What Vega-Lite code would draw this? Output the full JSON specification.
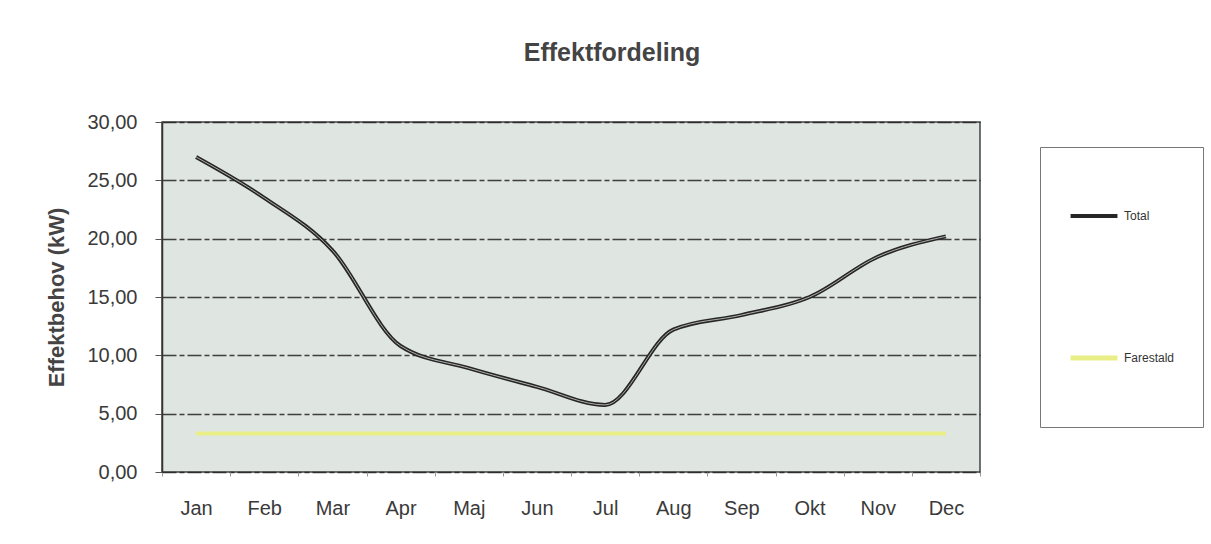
{
  "$schema": "https://vega.github.io/schema/vega-lite/v6.json",
  "autosize": "none",
  "width": 818,
  "height": 350,
  "padding": {"left": 162, "top": 122, "right": 231, "bottom": 72},
  "background": "white",
  "title": {
    "text": "Effektfordeling",
    "font": "Liberation Sans",
    "fontSize": 25,
    "fontWeight": "bold",
    "color": "#444444",
    "anchor": "middle",
    "dx": 41,
    "offset": 46
  },
  "config": {
    "view": {"fill": "#dfe5e1", "stroke": "#444444", "strokeWidth": 1.5},
    "axis": {
      "labelFont": "Liberation Sans",
      "labelFontSize": 20,
      "labelColor": "#3a3a3a",
      "titleFont": "Liberation Sans",
      "titleColor": "#444444"
    }
  },
  "data": {
    "values": [
      {"month": "Jan", "series": "Total", "value": 27.0},
      {"month": "Feb", "series": "Total", "value": 23.5},
      {"month": "Mar", "series": "Total", "value": 19.0},
      {"month": "Apr", "series": "Total", "value": 10.8},
      {"month": "Maj", "series": "Total", "value": 8.9},
      {"month": "Jun", "series": "Total", "value": 7.3},
      {"month": "Jul", "series": "Total", "value": 5.75},
      {"month": "Aug", "series": "Total", "value": 12.2},
      {"month": "Sep", "series": "Total", "value": 13.45},
      {"month": "Okt", "series": "Total", "value": 15.0},
      {"month": "Nov", "series": "Total", "value": 18.45},
      {"month": "Dec", "series": "Total", "value": 20.2},
      {"month": "Jan", "series": "Farestald", "value": 3.3},
      {"month": "Feb", "series": "Farestald", "value": 3.3},
      {"month": "Mar", "series": "Farestald", "value": 3.3},
      {"month": "Apr", "series": "Farestald", "value": 3.3},
      {"month": "Maj", "series": "Farestald", "value": 3.3},
      {"month": "Jun", "series": "Farestald", "value": 3.3},
      {"month": "Jul", "series": "Farestald", "value": 3.3},
      {"month": "Aug", "series": "Farestald", "value": 3.3},
      {"month": "Sep", "series": "Farestald", "value": 3.3},
      {"month": "Okt", "series": "Farestald", "value": 3.3},
      {"month": "Nov", "series": "Farestald", "value": 3.3},
      {"month": "Dec", "series": "Farestald", "value": 3.3}
    ]
  },
  "encoding": {
    "x": {
      "field": "month",
      "type": "nominal",
      "sort": null,
      "scale": {"type": "band", "paddingInner": 0, "paddingOuter": 0},
      "axis": {
        "title": null,
        "labelAngle": 0,
        "labelPadding": 22,
        "domain": false,
        "ticks": true,
        "tickBand": "extent",
        "tickColor": "#999999",
        "tickSize": 4,
        "grid": false
      }
    },
    "y": {
      "field": "value",
      "type": "quantitative",
      "scale": {"domain": [0, 30], "nice": false},
      "axis": {
        "title": "Effektbehov (kW)",
        "titleFontSize": 22,
        "titleFontWeight": "bold",
        "titlePadding": 18,
        "values": [0, 5, 10, 15, 20, 25, 30],
        "labelExpr": "replace(format(datum.value, '.2f'), '.', ',')",
        "labelPadding": 18,
        "domain": true,
        "domainColor": "#333333",
        "domainWidth": 1.5,
        "ticks": true,
        "tickSize": 7,
        "tickColor": "#555555",
        "grid": true,
        "gridColor": "#222222",
        "gridWidth": 1.4,
        "gridDash": [14, 3, 5, 3],
        "gridOpacity": 0.85
      }
    }
  },
  "layer": [
    {
      "mark": {"type": "line", "interpolate": "monotone", "strokeWidth": 4},
      "encoding": {
        "color": {
          "field": "series",
          "type": "nominal",
          "scale": {"domain": ["Total", "Farestald"], "range": ["#262626", "#e9ef86"]},
          "legend": {
            "title": null,
            "orient": "none",
            "legendX": 878,
            "legendY": 25,
            "direction": "vertical",
            "symbolType": "stroke",
            "symbolSize": 2200,
            "symbolStrokeWidth": 3,
            "labelFont": "Liberation Sans",
            "labelFontSize": 12,
            "labelColor": "#333333",
            "clipHeight": 82,
            "rowPadding": 60,
            "padding": 28,
            "strokeColor": "#777777",
            "fillColor": "white"
          }
        },
        "strokeWidth": {
          "field": "series",
          "type": "nominal",
          "scale": {"domain": ["Total", "Farestald"], "range": [4, 5]},
          "legend": null
        }
      }
    },
    {
      "transform": [{"filter": "datum.series === 'Total'"}],
      "mark": {"type": "line", "interpolate": "monotone", "strokeWidth": 1, "color": "#e8e8e8", "opacity": 0.7},
      "encoding": {}
    }
  ]
}
